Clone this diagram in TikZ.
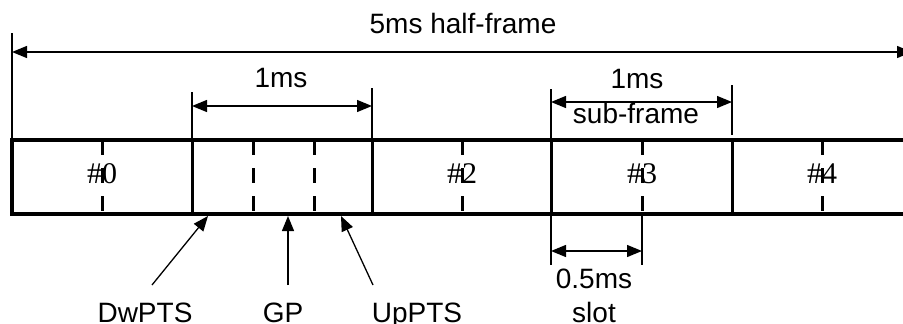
\documentclass[tikz,border=0pt]{standalone}
\usepackage{fontspec}
\setmainfont{Liberation Sans}
\newfontfamily\numserif{Liberation Serif}
\usetikzlibrary{arrows.meta}
\begin{document}
\begin{tikzpicture}[x=1pt,y=-1pt,
  dim/.style={line width=1.3pt,{Triangle[length=15pt,width=12pt]}-{Triangle[length=15pt,width=12pt]}},
  tickline/.style={line width=1.2pt},
  ptr/.style={line width=1.3pt,-{Triangle[length=15pt,width=12pt]}},
  lbl/.style={font=\fontsize{28}{30}\selectfont,inner sep=0pt,anchor=base},
  num/.style={font=\numserif\fontsize{30}{32}\selectfont,inner sep=0pt,anchor=base},
  frameline/.style={line width=4pt},
  divider/.style={line width=3pt},
  slotline/.style={line width=3pt,dash pattern=on 15pt off 13pt}]
\useasboundingbox (0,0) rectangle (903,324);
% frame
\coordinate (ftl) at (12,140);
\coordinate (fbr) at (930,214);
\draw[frameline] (ftl) rectangle (fbr);
% subframe dividers
\foreach \x/\n in {192/a,372/b,551/c,732/d,912/e}{
  \coordinate (dt\n) at (\x,140);
  \coordinate (db\n) at (\x,214);
  \draw[divider] (dt\n) -- (db\n);
}
% slot lines
\foreach \x/\n in {102/a,253/b,314/c,462/d,642/e,822/f}{
  \coordinate (st\n) at (\x,140);
  \coordinate (sb\n) at (\x,214);
  \draw[slotline] (st\n) -- (sb\n);
}
% subframe numbers
\node[num] (n0) at (102,183) {\#0};
\node[num] (n2) at (462,183) {\#2};
\node[num] (n3) at (642,183) {\#3};
\node[num] (n4) at (822,183) {\#4};
% 5ms half-frame
\coordinate (hfL) at (12,33);
\draw[tickline] (hfL) -- (ftl);
\coordinate (hfa) at (12,52);
\coordinate (hfb) at (912,52);
\draw[dim] (hfa) -- (hfb);
\node[lbl] (hf) at (463,33) {5ms half-frame};
% 1ms special subframe
\coordinate (t1a) at (192,92);
\coordinate (t1b) at (372,88);
\draw[tickline] (t1a) -- (dta);
\draw[tickline] (t1b) -- (dtb);
\coordinate (m1a) at (192,106);
\coordinate (m1b) at (372,106);
\draw[dim] (m1a) -- (m1b);
\node[lbl] (ms1) at (281,87) {1ms};
% 1ms sub-frame
\coordinate (t2a) at (551,89);
\coordinate (t2b) at (732,85);
\coordinate (t2c) at (732,135);
\draw[tickline] (t2a) -- (dtc);
\draw[tickline] (t2b) -- (t2c);
\coordinate (m2a) at (551,102);
\coordinate (m2b) at (732,102);
\draw[dim] (m2a) -- (m2b);
\node[lbl] (ms2) at (637,88) {1ms};
\node[lbl] (sf) at (636,123) {sub-frame};
% slot
\coordinate (s1) at (551,265);
\coordinate (s2) at (642,265);
\draw[tickline] (dbc) -- (s1);
\draw[tickline] (sbe) -- (s2);
\coordinate (sa) at (551,251);
\coordinate (sbb) at (642,251);
\draw[dim] (sa) -- (sbb);
\node[lbl] (half) at (594,288) {0.5ms};
\node[lbl] (slot) at (594,322) {slot};
% special subframe fields
\node[lbl] (dw) at (145,322) {DwPTS};
\node[lbl] (gp) at (283,322) {GP};
\node[lbl] (up) at (417,322) {UpPTS};
\coordinate (dwf) at (152,285);
\coordinate (dwt) at (208,216);
\coordinate (gpf) at (288,285);
\coordinate (gpt) at (288,216);
\coordinate (upf) at (373,285);
\coordinate (upt) at (341,216);
\draw[ptr] (dwf) -- (dwt);
\draw[ptr] (gpf) -- (gpt);
\draw[ptr] (upf) -- (upt);
\end{tikzpicture}
\end{document}
